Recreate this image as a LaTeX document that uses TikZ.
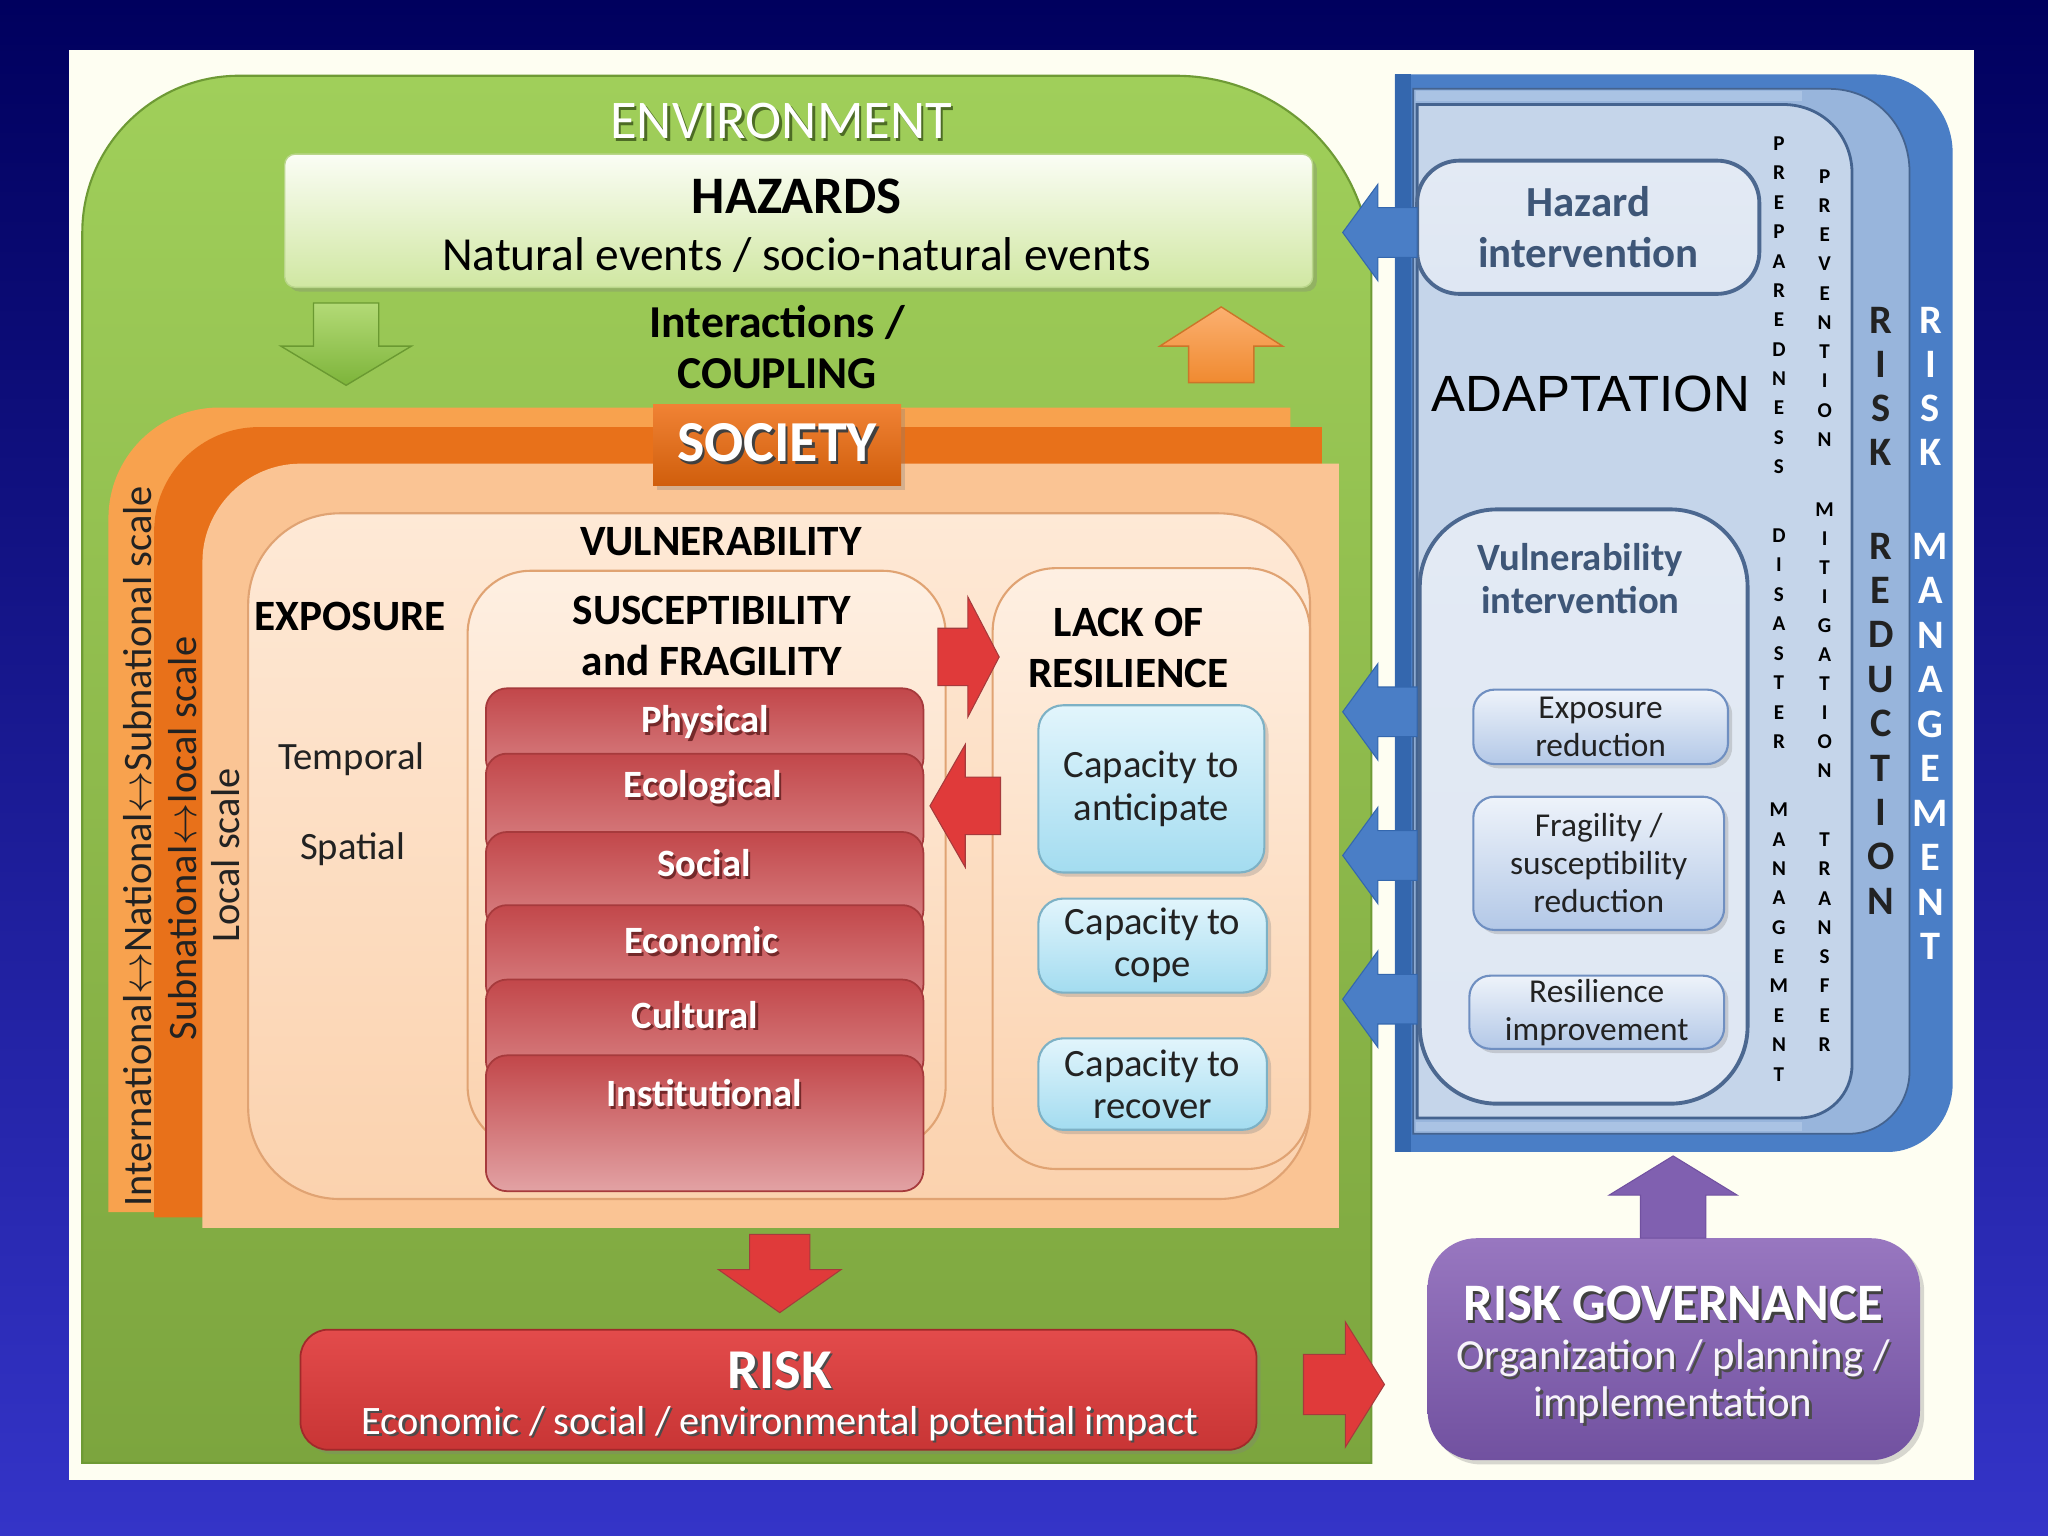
\documentclass[tikz,border=0pt]{standalone}
\usepackage{fontspec}
\setmainfont{Carlito}
\newfontfamily\arialf{Liberation Sans}
\usetikzlibrary{fit,shadows}

\definecolor{bgtop}{HTML}{00005E}
\definecolor{bgbot}{HTML}{3434C8}
\definecolor{cream}{HTML}{FEFEF2}
\definecolor{envT}{HTML}{A0CF5A}
\definecolor{envB}{HTML}{7CA53E}
\definecolor{envD}{HTML}{6E9A35}
\definecolor{hazT}{HTML}{FBFDF5}
\definecolor{hazB}{HTML}{D0E7A2}
\definecolor{hazD}{HTML}{B9D68A}
\definecolor{garrow}{HTML}{7DB43A}
\definecolor{garrowL}{HTML}{B3DA76}
\definecolor{oarrow}{HTML}{F08A30}
\definecolor{oarrowL}{HTML}{FBB070}
\definecolor{socA}{HTML}{F8A24E}
\definecolor{socB}{HTML}{E8711A}
\definecolor{socC}{HTML}{FAC494}
\definecolor{socT}{HTML}{F08234}
\definecolor{socD}{HTML}{D05E0C}
\definecolor{vulT}{HTML}{FEE9D6}
\definecolor{vulB}{HTML}{FBD2AE}
\definecolor{vulD}{HTML}{E0A373}
\definecolor{redT}{HTML}{C2474A}
\definecolor{redB}{HTML}{D98486}
\definecolor{redL}{HTML}{E2A2A4}
\definecolor{redD}{HTML}{A63A3C}
\definecolor{capT}{HTML}{E2F5FC}
\definecolor{capB}{HTML}{A3DCF0}
\definecolor{capD}{HTML}{7DB1C5}
\definecolor{redarr}{HTML}{E03A3A}
\definecolor{riskT}{HTML}{E34B4B}
\definecolor{riskB}{HTML}{C83535}
\definecolor{purT}{HTML}{9877C0}
\definecolor{purB}{HTML}{7151A0}
\definecolor{purarr}{HTML}{8060B0}
\definecolor{blueA}{HTML}{4A7EC6}
\definecolor{blueAd}{HTML}{3467AE}
\definecolor{blueB}{HTML}{98B5DC}
\definecolor{blueBl}{HTML}{AAC3E4}
\definecolor{blueC}{HTML}{C5D5EA}
\definecolor{blueCd}{HTML}{44638F}
\definecolor{hiF}{HTML}{E3EAF4}
\definecolor{hiD}{HTML}{4C6890}
\definecolor{hiT}{HTML}{3E5677}
\definecolor{sbT}{HTML}{EEF3FA}
\definecolor{sbB}{HTML}{B3C8E7}
\definecolor{sbD}{HTML}{6F8FC1}
\definecolor{txtD}{HTML}{222222}

\tikzset{
  pics/barrow/.style args={#1/#2/#3/#4}{code={
    \path[pic actions] (0,-#2) -- ({#1-#4},-#2) -- ({#1-#4},-#3) -- (#1,0)
      -- ({#1-#4},#3) -- ({#1-#4},#2) -- (0,#2) -- cycle;}},
  fitbox/.style={inner sep=0pt, outer sep=0pt},
  lbl/.style={inner sep=0pt, align=center},
  softshadow/.style={drop shadow={opacity=0.3, shadow xshift=1.2pt, shadow yshift=-1.2pt}},
  headfont/.style={font=\bfseries\fontsize{12.3}{14.5}\selectfont},
  tabbox/.style={fitbox, rounded corners=6pt, top color=redT, bottom color=redB, draw=redD, line width=0.5pt},
  tabtext/.style={lbl, font=\bfseries\fontsize{11}{13}\selectfont, text=white},
  capbox/.style={fitbox, rounded corners=7pt, top color=capT, bottom color=capB, draw=capD, line width=0.6pt, softshadow},
  captext/.style={lbl, font=\fontsize{11}{12}\selectfont, text=txtD},
  sbox/.style={fitbox, rounded corners=6pt, top color=sbT, bottom color=sbB, draw=sbD, line width=0.6pt, softshadow},
  stext/.style={lbl, font=\fontsize{9.5}{10.8}\selectfont, text=txtD},
  intbox/.style={fitbox, top color=hiF, bottom color=hiF!85!blueC, draw=hiD, line width=1.1pt},
  smallL/.style={lbl, font=\bfseries\fontsize{6}{6}\selectfont, text=black},
  bigL/.style={lbl, font=\bfseries\fontsize{11.5}{12}\selectfont},
  scaletxt/.style={lbl, rotate=90, font=\fontsize{11.5}{13}\selectfont, text=txtD},
}

\newcommand{\shtext}[5]{%
  \node[lbl,#3,text=#4,xshift=0.7pt,yshift=-0.7pt] (#1-sh) at #2 {#5};
  \node[lbl,#3] (#1) at #2 {#5};}

\begin{document}
\begin{tikzpicture}[x=0.013061cm,y=-0.013061cm]
\useasboundingbox (0,0) rectangle (1568,1176);
\shade[top color=bgtop,bottom color=bgbot] (0,0) rectangle (1568,1176);
\fill[cream] (53,38) rectangle (1511,1133);

% ---------- ENVIRONMENT ----------
\shade[top color=envT,bottom color=envB,draw=envD,line width=0.6pt]
  (63,1120) -- (63,178) .. controls (63,112) and (117,58) .. (183,58)
  -- (900,58) .. controls (983,58) and (1050,125) .. (1050,208)
  -- (1050,1120) -- cycle;
\shtext{envt}{(598,93)}{font=\fontsize{15.5}{18}\selectfont,text=white}{envD!70!black}{ENVIRONMENT}

% ---------- HAZARDS ----------
\node[fitbox, fit={(218,118)(1005,220)}, rounded corners=3pt, top color=hazT, bottom color=hazB, draw=hazD, softshadow] (haz) {};
\node[lbl, font=\bfseries\fontsize{15}{18}\selectfont] (hazt) at (610,150) {HAZARDS};
\node[lbl, font=\fontsize{13.5}{16}\selectfont] (hazs) at (610,195) {Natural events / socio-natural events};

\pic[top color=garrowL, bottom color=garrow, draw=garrow!85!black, line width=0.4pt, rotate=-90] (ga) at (265,232) {barrow={63/25/50/30}};
\pic[top color=oarrowL, bottom color=oarrow, draw=oarrow!85!black, line width=0.4pt, rotate=90] (oa) at (935,293) {barrow={58/25/47/30}};
\node[lbl, font=\bfseries\fontsize{13}{14.5}\selectfont] (coup) at (595,266) {Interactions /\\COUPLING};

% ---------- SOCIETY layers ----------
\fill[socA] (83,928) -- (83,397) .. controls (83,350) and (121,312) .. (168,312) -- (988,312) -- (988,928) -- cycle;
\fill[socB] (118,932) -- (118,407) .. controls (118,363) and (154,327) .. (198,327) -- (1012,327) -- (1012,932) -- cycle;
\fill[socC] (155,940) -- (155,430) .. controls (155,389) and (189,355) .. (230,355) -- (1025,355) -- (1025,940) -- cycle;

\node[scaletxt] (sc1) at (105,648) {International$\leftrightarrow$National$\leftrightarrow$Subnational scale};
\node[scaletxt] (sc2) at (140,642) {Subnational$\leftrightarrow$local scale};
\node[scaletxt] (sc3) at (173,655) {Local scale};

\node[fitbox, fit={(500,310)(690,372)}, top color=socT, bottom color=socD, softshadow] (soc) {};
\shtext{soct}{(595,339)}{font=\bfseries\fontsize{16.5}{18}\selectfont,text=white}{black!75}{SOCIETY}

% ---------- VULNERABILITY ----------
\node[fitbox, fit={(190,393)(1003,918)}, rounded corners=26pt, top color=vulT, bottom color=vulB, draw=vulD, line width=0.6pt] (vul) {};
\node[lbl, headfont] (vult) at (552,415) {VULNERABILITY};
\node[lbl, headfont] (expt) at (268,472) {EXPOSURE};
\node[lbl, font=\fontsize{11}{13}\selectfont, text=txtD] (temp) at (269,581) {Temporal};
\node[lbl, font=\fontsize{11}{13}\selectfont, text=txtD] (spat) at (270,650) {Spatial};

\node[fitbox, fit={(358,437)(724,880)}, rounded corners=18pt, top color=vulT!70!white, bottom color=vulB, draw=vulD, line width=0.6pt] (sus) {};
\node[lbl, headfont] (sust) at (545,487) {SUSCEPTIBILITY\\and FRAGILITY};

\node[tabbox, fit={(372,527)(707,597)}] (tab1) {};
\node[tabbox, fit={(372,577)(707,657)}] (tab2) {};
\node[tabbox, fit={(372,637)(707,713)}] (tab3) {};
\node[tabbox, fit={(372,693)(707,770)}] (tab4) {};
\node[tabbox, fit={(372,750)(707,828)}] (tab5) {};
\node[tabbox, fit={(372,808)(707,912)}, bottom color=redL] (tab6) {};
\shtext{phys}{(540,553)}{tabtext}{redD!70!black}{Physical}
\shtext{ecol}{(538,603)}{tabtext}{redD!70!black}{Ecological}
\shtext{soci}{(539,661)}{tabtext}{redD!70!black}{Social}
\shtext{econ}{(537,720)}{tabtext}{redD!70!black}{Economic}
\shtext{cult}{(532,777)}{tabtext}{redD!70!black}{Cultural}
\shtext{inst}{(539,837)}{tabtext}{redD!70!black}{Institutional}

\node[fitbox, fit={(760,435)(1003,895)}, rounded corners=18pt, top color=vulT!70!white, bottom color=vulB, draw=vulD, line width=0.6pt] (res) {};
\node[lbl, headfont] (rest) at (864,496) {LACK OF\\RESILIENCE};

\node[capbox, fit={(795,540)(968,668)}] (cap1) {};
\node[captext] (cap1t) at (cap1) {Capacity to\\anticipate};
\node[capbox, fit={(795,688)(970,760)}] (cap2) {};
\node[captext] (cap2t) at (cap2) {Capacity to\\cope};
\node[capbox, fit={(795,795)(970,865)}] (cap3) {};
\node[captext] (cap3t) at (cap3) {Capacity to\\recover};

\pic[fill=redarr, draw=redD, line width=0.3pt] (sr) at (718,503) {barrow={47/22/46/24}};
\pic[fill=redarr, draw=redD, line width=0.3pt, rotate=180] (rs) at (766,617) {barrow={54/22/47/27}};

% ---------- RISK ----------
\pic[fill=redarr, draw=redD, line width=0.3pt, rotate=-90] (vr) at (597,945) {barrow={60/23/47/33}};
\node[fitbox, fit={(230,1018)(962,1110)}, rounded corners=8pt, top color=riskT, bottom color=riskB, draw=riskB!80!black, line width=0.5pt, softshadow] (risk) {};
\shtext{riskt}{(597,1049)}{font=\bfseries\fontsize{16}{18}\selectfont,text=white}{black!70}{RISK}
\shtext{risks}{(597,1090)}{font=\fontsize{11.5}{13}\selectfont,text=white}{black!70}{Economic / social / environmental potential impact}
\pic[fill=redarr, draw=redD, line width=0.3pt] (rg) at (998,1060) {barrow={62/23/48/30}};

% ---------- RISK GOVERNANCE ----------
\node[fitbox, fit={(1093,948)(1470,1118)}, rounded corners=14pt, top color=purT, bottom color=purB, softshadow] (gov) {};
\shtext{govt}{(1281,998)}{font=\bfseries\fontsize{15}{18}\selectfont,text=white}{black!75}{RISK GOVERNANCE}
\shtext{govs}{(1281,1058)}{font=\fontsize{12.2}{13.4}\selectfont,text=white!92!purT}{black!70}{Organization / planning /\\implementation}
\pic[fill=purarr, draw=purB, line width=0.3pt, rotate=90] (gp) at (1281,948) {barrow={63/25/49/30}};

% ---------- RISK MANAGEMENT panel ----------
\fill[blueA] (1068,57) -- (1435,57) .. controls (1468,57) and (1495,84) .. (1495,117)
  -- (1495,830) .. controls (1495,858) and (1473,882) .. (1445,882) -- (1068,882) -- cycle;
\fill[blueAd] (1068,57) rectangle (1080,882);
\filldraw[fill=blueB, draw=blueCd, line width=0.5pt] (1082,68) -- (1400,68) .. controls (1436,68) and (1462,96) .. (1462,132)
  -- (1462,820) .. controls (1462,846) and (1442,868) .. (1416,868) -- (1082,868) -- cycle;
\fill[blueBl] (1084,70) rectangle (1380,77);
\fill[blueBl] (1084,859) rectangle (1380,866);
\filldraw[fill=blueC, draw=blueCd, line width=0.8pt] (1085,80) -- (1365,80) .. controls (1395,80) and (1418,103) .. (1418,133)
  -- (1418,815) .. controls (1418,838) and (1400,856) .. (1377,856) -- (1085,856) -- cycle;

\node[intbox, fit={(1085,123)(1347,225)}, rounded corners=12pt] (hint) {};
\node[lbl, font=\bfseries\fontsize{12.2}{14.5}\selectfont, text=hiT] (hintt) at (hint) {Hazard\\intervention};
\node[lbl, font=\arialf\fontsize{14.5}{16}\selectfont] (adapt) at (1218,302) {ADAPTATION};

\node[intbox, fit={(1087,390)(1338,845)}, rounded corners=22pt] (vint) {};
\node[lbl, font=\bfseries\fontsize{11}{12.3}\selectfont, text=hiT] (vintt) at (1210,443) {Vulnerability\\intervention};
\node[sbox, fit={(1128,528)(1323,585)}] (sb1) {};
\node[stext] (sb1t) at (sb1) {Exposure\\reduction};
\node[sbox, fit={(1128,610)(1320,712)}] (sb2) {};
\node[stext] (sb2t) at (sb2) {Fragility /\\susceptibility\\reduction};
\node[sbox, fit={(1125,747)(1320,803)}] (sb3) {};
\node[stext] (sb3t) at (sb3) {Resilience\\improvement};

\foreach \c [count=\i from 0] in {P,R,E,P,A,R,E,D,N,E,S,S}
  \node[smallL] (lp\i) at (1362,110+22.5*\i) {\c};
\foreach \c [count=\i from 0] in {D,I,S,A,S,T,E,R}
  \node[smallL] (ld\i) at (1362,410+22.6*\i) {\c};
\foreach \c [count=\i from 0] in {M,A,N,A,G,E,M,E,N,T}
  \node[smallL] (lm\i) at (1362,620+22.5*\i) {\c};
\foreach \c [count=\i from 0] in {P,R,E,V,E,N,T,I,O,N}
  \node[smallL] (lv\i) at (1397,135+22.4*\i) {\c};
\foreach \c [count=\i from 0] in {M,I,T,I,G,A,T,I,O,N}
  \node[smallL] (lg\i) at (1397,390+22.2*\i) {\c};
\foreach \c [count=\i from 0] in {T,R,A,N,S,F,E,R}
  \node[smallL] (lt\i) at (1397,643+22.4*\i) {\c};
\foreach \c [count=\i from 0] in {R,I,S,K}
  \node[bigL, text=txtD] (rr\i) at (1440,245+33.7*\i) {\c};
\foreach \c [count=\i from 0] in {R,E,D,U,C,T,I,O,N}
  \node[bigL, text=txtD] (rd\i) at (1440,418+34*\i) {\c};
\foreach \c [count=\i from 0] in {R,I,S,K}
  \node[bigL, text=white] (mr\i) at (1478,245+33.7*\i) {\c};
\foreach \c [count=\i from 0] in {M,A,N,A,G,E,M,E,N,T}
  \node[bigL, text=white] (mm\i) at (1478,418+34.1*\i) {\c};

% blue arrows from the panel into the environment
\pic[fill=blueA, draw=blueAd, line width=0.3pt, rotate=180] (ba0) at (1085,178) {barrow={57/19/37/27}};
\pic[fill=blueA, draw=blueAd, line width=0.3pt, rotate=180] (ba1) at (1085,545) {barrow={57/19/37/27}};
\pic[fill=blueA, draw=blueAd, line width=0.3pt, rotate=180] (ba2) at (1085,655) {barrow={57/19/37/27}};
\pic[fill=blueA, draw=blueAd, line width=0.3pt, rotate=180] (ba3) at (1085,765) {barrow={57/19/37/27}};
\end{tikzpicture}
\end{document}
